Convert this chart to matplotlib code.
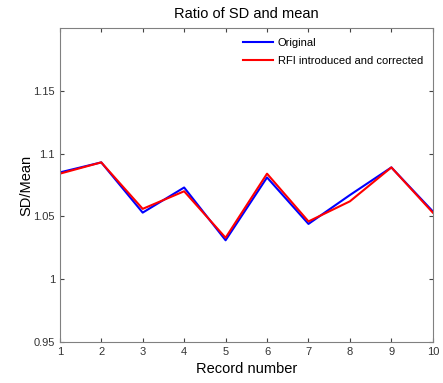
import matplotlib
matplotlib.use("Agg")
import matplotlib.pyplot as plt

records = [1, 2, 3, 4, 5, 6, 7, 8, 9, 10]
original = [1.085, 1.093, 1.053, 1.073, 1.031, 1.081, 1.044, 1.067, 1.089, 1.054]
corrected = [1.084, 1.093, 1.056, 1.070, 1.033, 1.084, 1.046, 1.062, 1.089, 1.053]
yticks = [0.95, 1.0, 1.05, 1.1, 1.15]
yticklabels = ["0.95", "1", "1.05", "1.1", "1.15"]

plt.rcParams['font.family'] = ['Liberation Sans', 'DejaVu Sans']
fig = plt.figure(figsize=(4.43, 3.83), dpi=100)
ax = fig.add_axes([0.135, 0.107, 0.842, 0.820])
ax.plot(records, original, color='#0000ff', lw=1.5, label='Original')
ax.plot(records, corrected, color='#ff0000', lw=1.5, label='RFI introduced and corrected')
ax.set_xlim(1, 10)
ax.set_ylim(0.95, 1.2)
ax.set_xticks(records)
ax.set_yticks(yticks)
ax.set_yticklabels(yticklabels)
ax.tick_params(direction='in', top=True, right=True, labelsize=8, colors='#444444', length=3, labelcolor='#333333')
for s in ax.spines.values():
    s.set_color('#808080')
ax.set_title('Ratio of SD and mean', fontsize=10.5, pad=7)
ax.set_xlabel('Record number', fontsize=10.5, labelpad=4)
ax.set_ylabel('SD/Mean', fontsize=10.5, labelpad=0)
leg = ax.legend(loc='upper right', frameon=False, fontsize=8, handlelength=2.7, borderaxespad=0.5, handletextpad=0.4, labelspacing=0.75)
fig.savefig('out.png', dpi=100)
